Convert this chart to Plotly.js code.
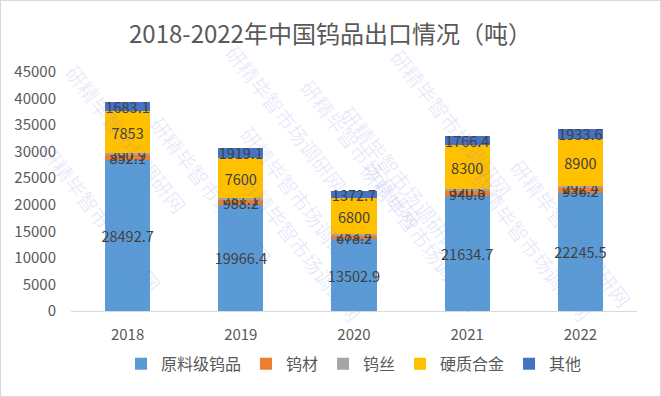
<!DOCTYPE html>
<html><head><meta charset="utf-8">
<script src="https://cdn.plot.ly/plotly-3.0.1.min.js"></script>
<style>html,body{margin:0;padding:0;background:#fff;}#chart{width:659px;height:395px;border:1px solid #d9d9d9;}</style>
</head><body><div id="chart"></div>
<script>
const years = ['2018','2019','2020','2021','2022'];
const rawGrade = [28492.7, 19966.4, 13502.9, 21634.7, 22245.5];
const wMaterial = [852.1, 988.2, 678.2, 940.6, 936.2];
const wWire = [390.9, 287.1, 283.4, 320.5, 292.4];
const carbide = [7853, 7600, 6800, 8300, 8900];
const others = [1683.1, 1919.1, 1372.7, 1766.4, 1933.6];
const names = ['原料级钨品','钨材','钨丝','硬质合金','其他'];
const colors = ['#5B9BD5','#ED7D31','#A5A5A5','#FFC000','#4472C4'];
const watermarkText = '研精毕智市场调研网';
const series = [rawGrade, wMaterial, wWire, carbide, others];
const font = '"Noto Sans CJK SC", "Noto Sans", sans-serif';
const traces = series.map((s,i)=>({
  type:'bar', x:years, y:s, name:names[i],
  marker:{color:colors[i]},
  text:s.map(v=>String(v)), textposition:'inside', insidetextanchor:'middle',
  textangle:0, constraintext:'none',
  insidetextfont:{color:'#404040', size:14.5, family:font},
  hoverinfo:'none'
}));
// watermark positions in pixels -> paper coords (plot area: x 70..636, y 71..311)
const L=70, W=566, T=71, H=240;
const wmPix = [[55,55],[215,35],[360,70],[520,40],[640,150],[470,180],[300,200],[140,190],[30,300],[230,330],[420,320],[600,330]];
const annotations = wmPix.map(p=>({
  xref:'paper', yref:'paper', x:(p[0]-L)/W, y:(T+H-p[1])/H,
  text:watermarkText, showarrow:false, textangle:52,
  font:{size:20, color:'rgba(120,120,225,0.16)', family:font}
}));
const layout = {
  width:659, height:395, barmode:'stack', bargap:0.6,
  margin:{l:70, r:23, t:71, b:85},
  paper_bgcolor:'#fff', plot_bgcolor:'#fff',
  font:{family:font, color:'#595959', size:15},
  title:{text:'2018-2022年中国钨品出口情况（吨）', font:{size:24, color:'#595959', family:font}, x:0.5, xanchor:'center', y:0.915, yanchor:'middle'},
  uniformtext:{minsize:14, mode:'show'},
  xaxis:{type:'category', showline:true, linecolor:'#d9d9d9', linewidth:1, ticks:'', tickfont:{size:15, color:'#595959'}, ticklabelstandoff:10},
  yaxis:{range:[0,45000], dtick:5000, showgrid:false, zeroline:false, showline:false, ticks:'', tickformat:'d', tickfont:{size:15, color:'#595959'}, ticklabelstandoff:14},
  legend:{orientation:'h', x:0.5, xanchor:'center', y:-0.15, yanchor:'top', font:{size:16, color:'#595959'}, traceorder:'normal', itemwidth:30},
  annotations:annotations
};
Plotly.newPlot('chart', traces, layout, {displayModeBar:false, staticPlot:true});
</script></body></html>
